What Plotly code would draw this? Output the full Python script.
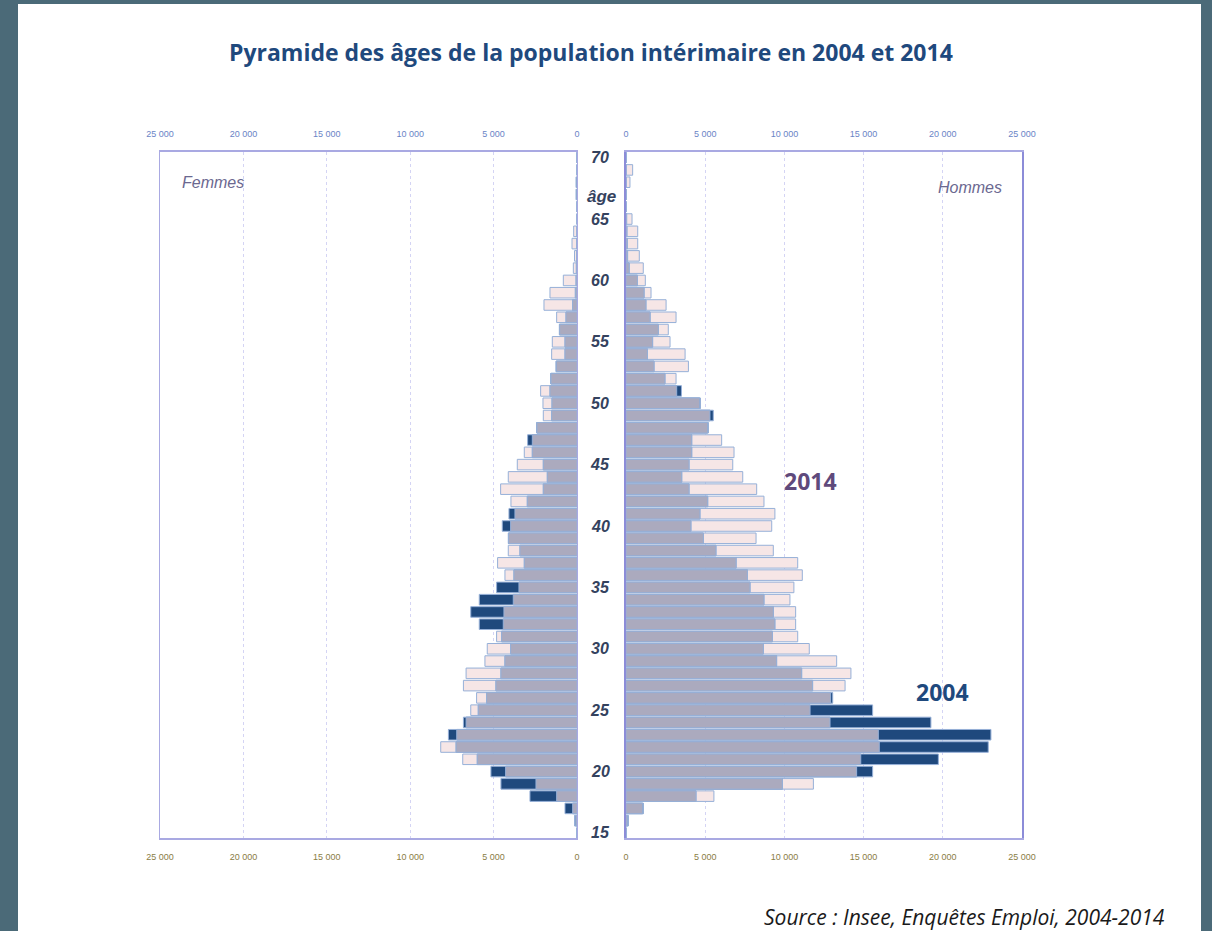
import plotly.graph_objects as go

# ---------------- data ----------------
ages = list(range(15, 71))

hommes_2004 = [0, 150, 1100, 4420, 9870, 15570, 19720, 22870, 23040, 19250,
               15570, 13050, 11780, 11090, 9510, 8670, 9240, 9400, 9300, 8710,
               7830, 7660, 6950, 5680, 4880, 4100, 4670, 5160, 3980, 3520,
               3980, 4150, 4150, 5200, 5510, 4700, 3500, 2460, 1770, 1350,
               1680, 2040, 1520, 1260, 1140, 720, 200, 100, 80, 60,
               40, 0, 0, 0, 0, 0]
hommes_2014 = [0, 100, 1050, 5550, 11830, 14560, 14820, 15990, 15930, 12880,
               11620, 12920, 13830, 14200, 13300, 11570, 10840, 10710, 10710, 10350,
               10600, 11130, 10840, 9300, 8210, 9200, 9400, 8710, 8250, 7370,
               6740, 6820, 6040, 5150, 5300, 4650, 3200, 3160, 3940, 3730,
               2780, 2670, 3160, 2530, 1580, 1220, 1090, 840, 740, 740,
               380, 0, 0, 250, 420, 0]
femmes_2004 = [0, 150, 720, 2820, 4560, 5160, 5980, 7250, 7710, 6810,
               5920, 5420, 4860, 4560, 4320, 3980, 4520, 5860, 6370, 5860,
               4820, 3780, 3160, 3420, 4120, 4480, 4080, 2980, 2020, 1780,
               2020, 2680, 2960, 2420, 1520, 1500, 1620, 1580, 1260, 720,
               720, 1060, 660, 260, 100, 60, 40, 30, 20, 0,
               0, 0, 60, 60, 0, 0]
femmes_2014 = [0, 80, 260, 1220, 2460, 4280, 6850, 8170, 7210, 6650,
               6370, 6020, 6810, 6650, 5520, 5380, 4820, 4420, 4380, 3820,
               3480, 4320, 4760, 4120, 4100, 3980, 3720, 3960, 4580, 4120,
               3580, 3160, 2680, 2400, 2020, 2040, 2180, 1560, 1240, 1520,
               1480, 1040, 1220, 1980, 1620, 820, 220, 150, 300, 200,
               0, 0, 0, 0, 0, 0]

age_ticks = [15, 20, 25, 30, 35, 40, 45, 50, 55, 60, 65, 70]
x_ticks = [0, 5000, 10000, 15000, 20000, 25000]

# ---------------- styles ----------------
NAVY = "rgb(31,73,125)"
PINK = "rgb(246,230,230)"
OVER = "rgb(171,170,190)"
EDGE = "rgb(150,176,216)"
FRAME = "#4b6a78"

W, H = 1212, 931
def px(x):
    return x / W
def py(y):
    return 1 - y / H

fig = go.Figure()

def add_panel(v04, v14, xa, ya):
    overlap = [min(a, b) for a, b in zip(v04, v14)]
    common = dict(y=ages, orientation="h", width=0.86, xaxis=xa, yaxis=ya,
                  showlegend=False, hoverinfo="x+y")
    fig.add_trace(go.Bar(x=v14, marker=dict(color=PINK, line=dict(color=EDGE, width=1)),
                         name="2014", **common))
    fig.add_trace(go.Bar(x=v04, marker=dict(color=NAVY, line=dict(color=EDGE, width=1)),
                         name="2004", **common))
    fig.add_trace(go.Bar(x=overlap, marker=dict(color=OVER, line=dict(color=EDGE, width=1)),
                         name="commun", **common))

add_panel(femmes_2004, femmes_2014, "x", "y")
add_panel(hommes_2004, hommes_2014, "x2", "y2")

# invisible traces to activate top axes
fig.add_trace(go.Scatter(x=[0], y=[15], xaxis="x3", yaxis="y", mode="markers",
                         marker=dict(opacity=0), showlegend=False, hoverinfo="skip"))
fig.add_trace(go.Scatter(x=[0], y=[15], xaxis="x4", yaxis="y2", mode="markers",
                         marker=dict(opacity=0), showlegend=False, hoverinfo="skip"))

dom_left = [px(160), px(577)]
dom_right = [px(626), px(1022)]
dom_y = [py(838), py(152)]
yr = [14.59, 70.46]

tickfont_bottom = dict(family="Liberation Sans Narrow, Liberation Sans, Arial", size=9, color="#8a7d45")
tickfont_top = dict(family="Liberation Sans Narrow, Liberation Sans, Arial", size=9, color="#6a84c6")
axis_line = "#a9a9e2"
grid = "#d4d4f4"

xcommon = dict(tickvals=x_ticks, tickformat=",d", showgrid=True, gridcolor=grid,
               griddash="dot", gridwidth=1, zeroline=False, showline=True,
               linecolor=axis_line, linewidth=2, ticks="outside", ticklen=9,
               tickcolor="rgba(0,0,0,0)", automargin=False)
ycommon = dict(domain=dom_y, range=yr, showticklabels=False, showgrid=False,
               zeroline=False, showline=True, mirror=True, ticks="", automargin=False)

fig.update_layout(
    template="none",
    width=W, height=H,
    margin=dict(l=0, r=0, t=0, b=0, pad=0, autoexpand=False),
    paper_bgcolor=FRAME,
    plot_bgcolor="white",
    separators=", ",
    barmode="overlay",
    bargap=0.1,
    xaxis=dict(domain=dom_left, range=[25000, 0], anchor="y", side="bottom",
               tickfont=tickfont_bottom, **xcommon),
    xaxis3=dict(domain=dom_left, range=[25000, 0], anchor="y", side="top",
                overlaying="x", tickfont=tickfont_top, **xcommon),
    xaxis2=dict(domain=dom_right, range=[0, 25000], anchor="y2", side="bottom",
                tickfont=tickfont_bottom, **xcommon),
    xaxis4=dict(domain=dom_right, range=[0, 25000], anchor="y2", side="top",
                overlaying="x2", tickfont=tickfont_top, **xcommon),
    yaxis=dict(anchor="x", linecolor=axis_line, linewidth=1, **ycommon),
    yaxis2=dict(anchor="x2", linecolor="#8c8cd8", linewidth=1.5, **ycommon),
)

# white page
fig.add_shape(type="rect", xref="paper", yref="paper",
              x0=px(18), x1=px(1201), y0=-0.01, y1=py(4),
              fillcolor="white", line=dict(width=0), layer="below")

def note(text, x, y, size, color, family="Open Sans", xanchor="center", yref="paper"):
    return dict(text=text, x=x, y=y, xref="paper", yref=yref, showarrow=False,
                xanchor=xanchor, yanchor="middle",
                font=dict(family=family, size=size, color=color))

AGEFONT = "Liberation Sans Narrow, Liberation Sans"
annos = [
    note("<b>Pyramide des âges de la population intérimaire en 2004 et 2014</b>",
         px(591), py(52), 23, "#1f497d"),
    note("<i>Femmes</i>", px(213), py(182), 16, "#6b6890", family="Liberation Sans"),
    note("<i>Hommes</i>", px(970), py(188), 16, "#6b6890", family="Liberation Sans"),
    note("<b>2014</b>", px(810), py(481), 23, "#5f4a7c"),
    note("<b>2004</b>", px(943), py(692), 23, "#1f497d"),
    note("<i>Source : Insee, Enquêtes Emploi, 2004-2014</i>", px(1167), py(917), 21,
         "#1a1a1a", xanchor="right"),
]
for a in age_ticks:
    annos.append(note(f"<b><i>{a}</i></b>", px(600), a, 16, "#34425e", family=AGEFONT, yref="y"))
annos.append(note("<b><i>âge</i></b>", px(601), py(196), 17, "#34425e", family=AGEFONT))
fig.update_layout(annotations=annos)

fig.write_html("out.html", config={"displayModeBar": False},
               post_script="document.body.style.margin='0px';document.body.style.overflow='hidden';")
